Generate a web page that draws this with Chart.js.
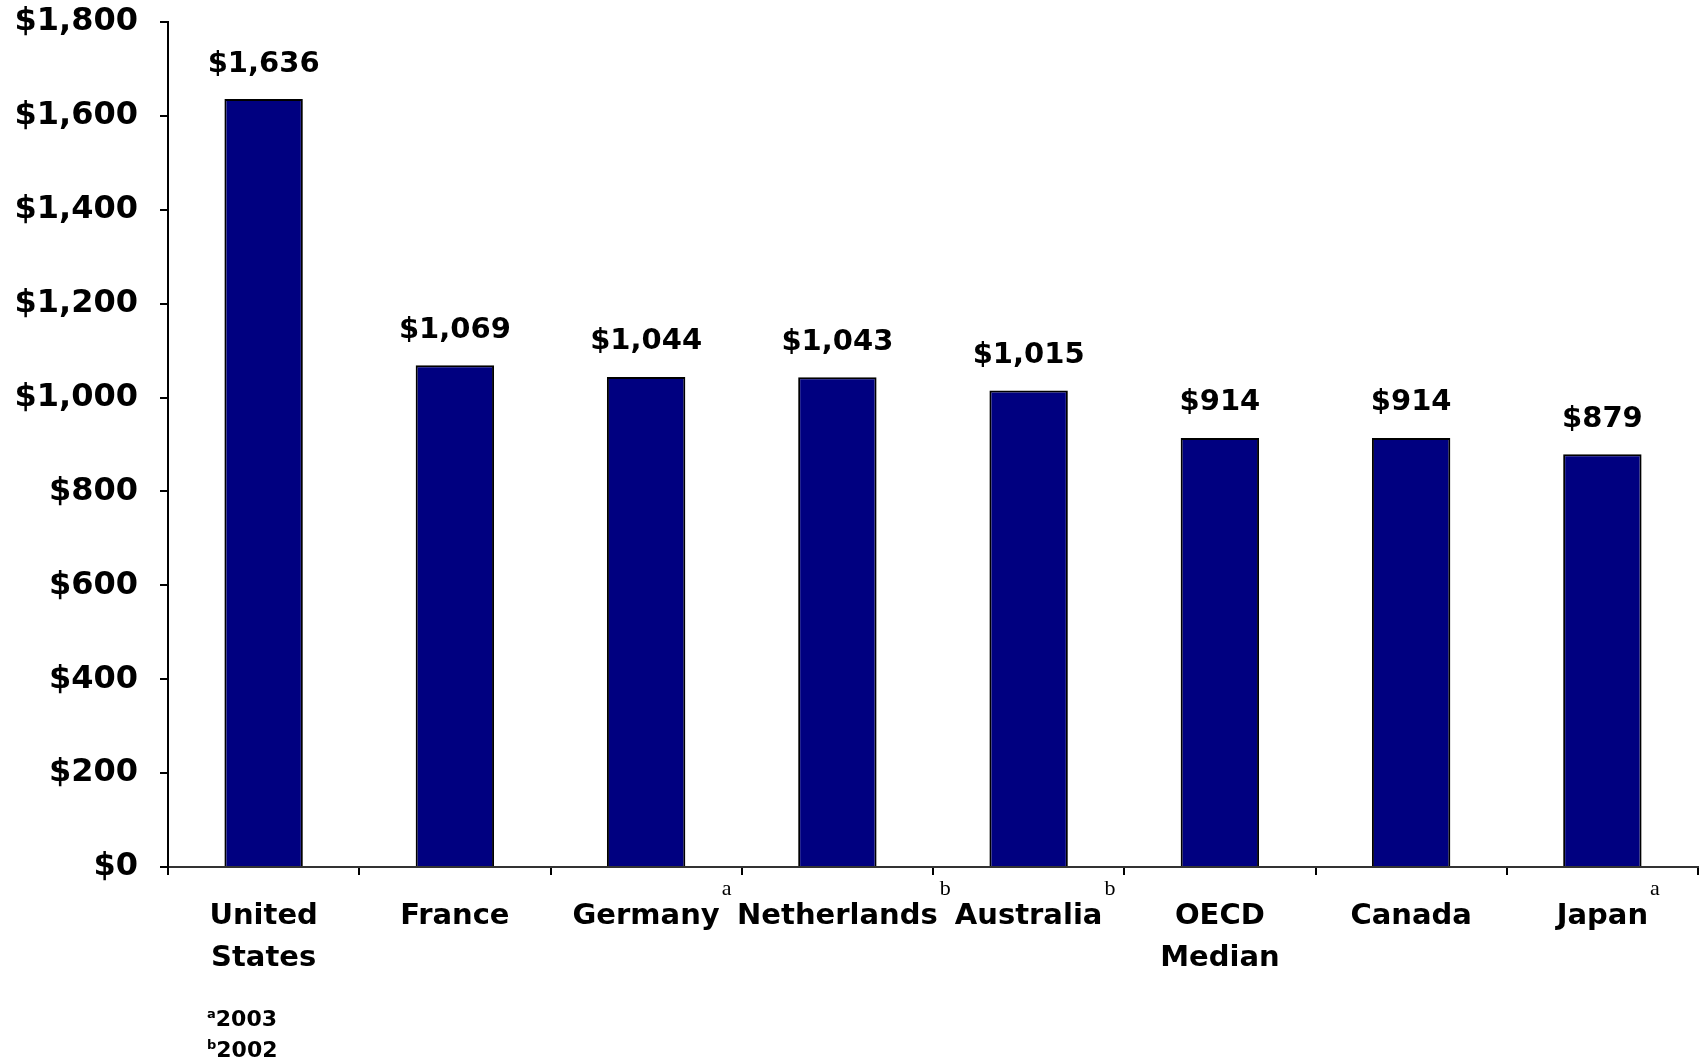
<!DOCTYPE html>
<html>
<head>
<meta charset="utf-8">
<script src="https://cdn.jsdelivr.net/npm/chart.js@4/dist/chart.umd.min.js"></script>
<style>
  html, body { margin: 0; padding: 0; background: #fff; }
  #wrap { position: relative; width: 1701px; height: 1058px; }
  #chart { position: absolute; left: 0; top: 0; }
  .notes {
    position: absolute; left: 207px; top: 1001px;
    font: bold 22px "DejaVu Sans", sans-serif; line-height: 26px; color: #000;
  }
  .notes sup { font-size: 13px; vertical-align: 8px; }
</style>
</head>
<body>
<div id="wrap">
  <canvas id="chart" width="1701" height="1058"></canvas>
  <div class="notes"><sup>a</sup>2003<br><sup>b</sup>2002</div>
</div>
<script>
const CATEGORIES = [['United', 'States'], 'France', 'Germany', 'Netherlands', 'Australia', ['OECD', 'Median'], 'Canada', 'Japan'];
const SPENDING = [1636, 1069, 1044, 1043, 1015, 914, 914, 879];
const YEAR_MARKS = ['', '', 'a', 'b', 'b', '', '', 'a'];
const Y_MAX = 1800;
const Y_STEP = 200;

const FONT = '"DejaVu Sans", sans-serif';
const money = v => '$' + Number(v).toLocaleString('en-US');

// value labels above the bars
const valueLabels = {
  id: 'valueLabels',
  afterDatasetsDraw(chart) {
    const ctx = chart.ctx;
    const meta = chart.getDatasetMeta(0);
    ctx.save();
    ctx.font = 'bold 29px ' + FONT;
    ctx.fillStyle = '#000';
    ctx.textAlign = 'center';
    ctx.textBaseline = 'middle';
    meta.data.forEach((bar, i) => {
      ctx.fillText(money(SPENDING[i]), bar.x, bar.y - 35);
    });
    ctx.restore();
  }
};

// little a / b year marks after some country names
const yearMarks = {
  id: 'yearMarks',
  afterDraw(chart) {
    const ctx = chart.ctx;
    const x = chart.scales.x;
    ctx.save();
    YEAR_MARKS.forEach((m, i) => {
      if (!m) return;
      const first = Array.isArray(CATEGORIES[i]) ? CATEGORIES[i][0] : CATEGORIES[i];
      ctx.font = 'bold 29px ' + FONT;
      const w = ctx.measureText(first).width;
      ctx.font = '22px "Liberation Serif", serif';
      ctx.fillStyle = '#000';
      ctx.textAlign = 'left';
      ctx.textBaseline = 'alphabetic';
      ctx.fillText(m, x.getPixelForValue(i) + w / 2 + 2, x.top + 28);
    });
    ctx.restore();
  }
};

new Chart(document.getElementById('chart'), {
  type: 'bar',
  data: {
    labels: CATEGORIES,
    datasets: [{
      data: SPENDING,
      backgroundColor: '#000080',
      borderColor: '#000',
      borderWidth: 2,
      categoryPercentage: 1,
      barPercentage: 0.41
    }]
  },
  options: {
    responsive: false,
    animation: false,
    devicePixelRatio: 1,
    layout: { padding: { top: 22, right: 3, left: 0, bottom: 0 } },
    plugins: { legend: { display: false }, tooltip: { enabled: false } },
    scales: {
      x: {
        afterFit: s => { s.height = 191; s.paddingLeft = 0; s.paddingRight = 0; },
        grid: { offset: true, drawOnChartArea: false, drawTicks: true, tickLength: 8, color: '#000', lineWidth: 2 },
        border: { color: '#333', width: 2 },
        ticks: {
          autoSkip: false, maxRotation: 0, minRotation: 0, padding: 20,
          color: '#000', font: { family: FONT, size: 29, weight: 'bold', lineHeight: 1.45 }
        }
      },
      y: {
        min: 0,
        max: Y_MAX,
        afterFit: s => { s.width = 168; s.paddingTop = 0; s.paddingBottom = 0; },
        grid: { drawOnChartArea: false, drawTicks: true, tickLength: 8, color: '#000', lineWidth: 2 },
        border: { color: '#000', width: 2 },
        ticks: {
          stepSize: Y_STEP, padding: 22, color: '#000',
          font: { family: FONT, size: 32, weight: 'bold' },
          callback: v => money(v)
        }
      }
    }
  },
  plugins: [valueLabels, yearMarks]
});
</script>
</body>
</html>
